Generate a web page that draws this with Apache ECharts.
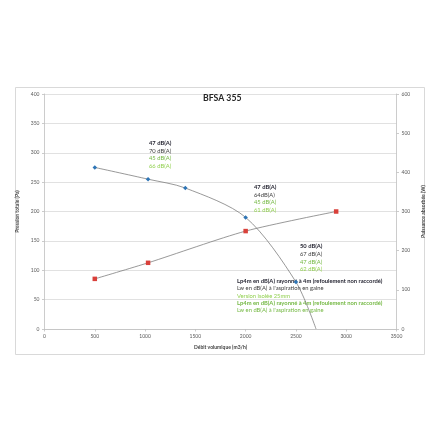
<!DOCTYPE html>
<html><head><meta charset="utf-8">
<script src="https://cdn.jsdelivr.net/npm/echarts@6/dist/echarts.min.js"></script>
<style>html,body{margin:0;padding:0;background:#fff}#c{width:440px;height:440px}</style>
</head><body><div id="c"></div>
<script>
const xTicks = [0, 500, 1000, 1500, 2000, 2500, 3000, 3500];
const flowP = [500, 1030, 1400, 2000, 2500, 2700];
const pressure = [275, 255, 240, 190, 80, 0];
const pressureMarked = [true, true, true, true, true, false];
const flowW = [500, 1030, 2000, 2900];
const power = [128, 169, 250, 300];
const chartTitle = 'BFSA 355';
const xName = 'Débit volumique (m3/h)';
const yLeftName = 'Pression totale (Pa)';
const yRightName = 'Puissance absorbée (W)';
const note1 = ['47 dB(A)', '70 dB(A)', '45 dB(A)', '66 dB(A)'];
const note2 = ['47 dB(A)', '64dB(A)', '45 dB(A)', '61 dB(A)'];
const note3 = ['50 dB(A)', '67 dB(A)', '47 dB(A)', '62 dB(A)'];
const legendLines = [
  'Lp4m en dB(A) rayonné à 4m (refoulement non raccordé)',
  'Lw en dB(A) à l\'aspiration en gaine',
  'Version isolée 25mm',
  'Lp4m en dB(A) rayonné à 4m (refoulement non raccordé)',
  'Lw en dB(A) à l\'aspiration en gaine'
];

const FONT = 'Lato';
const noteStyles = [
  {fill: '#262633', fontWeight: 'bold'},
  {fill: '#404040', fontWeight: 'normal'},
  {fill: '#74b843', fontWeight: 'normal'},
  {fill: '#92d050', fontWeight: 'normal'}
];
const legendStyles = [
  {fill: '#262633', fontWeight: 'bold'},
  {fill: '#404040', fontWeight: 'normal'},
  {fill: '#92d050', fontWeight: 'normal'},
  {fill: '#74b843', fontWeight: 'bold'},
  {fill: '#74b843', fontWeight: 'normal'}
];

function block(lines, styles, x, y0, dy, size) {
  return lines.map((t, i) => ({
    type: 'text', left: x, top: y0 + i * dy - size / 2 - 0.5, z: 1,
    style: {text: t, fontFamily: FONT, fontSize: size, fill: styles[i].fill, fontWeight: styles[i].fontWeight}
  }));
}

const chart = echarts.init(document.getElementById('c'), null, {renderer: 'canvas'});
const axisLabel = {fontFamily: FONT, fontSize: 5, color: '#595959', formatter: v => String(v)};
chart.setOption({
  animation: false,
  backgroundColor: '#fff',
  grid: {left: 44.5, right: 43.5, top: 94, bottom: 111, show: false},
  xAxis: {
    type: 'value', min: xTicks[0], max: xTicks[xTicks.length - 1], interval: 500,
    name: xName, nameLocation: 'middle', nameGap: 16,
    nameTextStyle: {fontFamily: FONT, fontSize: 5, fontWeight: 'bold', color: '#404040'},
    axisLine: {show: true, lineStyle: {color: '#bfbfbf', width: 0.8}},
    axisTick: {show: true, length: 2.5, lineStyle: {color: '#bfbfbf', width: 0.8}},
    axisLabel: Object.assign({margin: 5}, axisLabel),
    splitLine: {show: false}
  },
  yAxis: [{
    type: 'value', min: 0, max: 400, interval: 50, position: 'left',
    name: yLeftName, nameLocation: 'middle', nameGap: 18, nameRotate: 90,
    nameTextStyle: {fontFamily: FONT, fontSize: 5, fontWeight: 'bold', color: '#404040'},
    axisLine: {show: true, lineStyle: {color: '#bfbfbf', width: 0.8}},
    axisTick: {show: true, length: 2.5, lineStyle: {color: '#bfbfbf', width: 0.8}},
    axisLabel: Object.assign({margin: 5}, axisLabel),
    splitLine: {show: true, lineStyle: {color: '#d9d9d9', width: 0.8}}
  }, {
    type: 'value', min: 0, max: 600, interval: 100, position: 'right',
    name: yRightName, nameLocation: 'middle', nameGap: 17, nameRotate: 90,
    nameTextStyle: {fontFamily: FONT, fontSize: 5, fontWeight: 'bold', color: '#404040'},
    axisLine: {show: true, lineStyle: {color: '#bfbfbf', width: 0.8}},
    axisTick: {show: true, length: 2.5, lineStyle: {color: '#bfbfbf', width: 0.8}},
    axisLabel: Object.assign({margin: 5}, axisLabel),
    splitLine: {show: false}
  }],
  series: [{
    type: 'line', yAxisIndex: 0, smooth: 0.3,
    data: flowP.map((x, i) => ({value: [x, pressure[i]], symbol: pressureMarked[i] ? 'diamond' : 'none'})),
    symbolSize: 4.5,
    lineStyle: {color: '#7f7f7f', width: 0.8},
    itemStyle: {color: '#2e75b6'},
    z: 3
  }, {
    type: 'line', yAxisIndex: 1, smooth: 0.25,
    data: flowW.map((x, i) => [x, power[i]]),
    symbol: 'rect', symbolSize: 4.5,
    lineStyle: {color: '#7f7f7f', width: 0.8},
    itemStyle: {color: '#d9403a'},
    z: 3
  }],
  graphic: [].concat(
    [{type: 'rect', shape: {x: 15.5, y: 87.5, width: 409, height: 267}, style: {fill: 'none', stroke: '#d9d9d9', lineWidth: 1}, z: -1}],
    [{type: 'text', left: 203, top: 94, z: 1,
      style: {text: chartTitle, fontFamily: FONT, fontSize: 8.7, fontWeight: 'bold', fill: '#262626'}}],
    block(note1, noteStyles, 149, 143.7, 7.6, 5.8),
    block(note2, noteStyles, 254, 187.7, 7.5, 5.8),
    block(note3, noteStyles, 300, 247, 7.6, 5.8),
    block(legendLines, legendStyles, 237, 281.3, 7.4, 5.8)
  )
});
</script></body></html>
